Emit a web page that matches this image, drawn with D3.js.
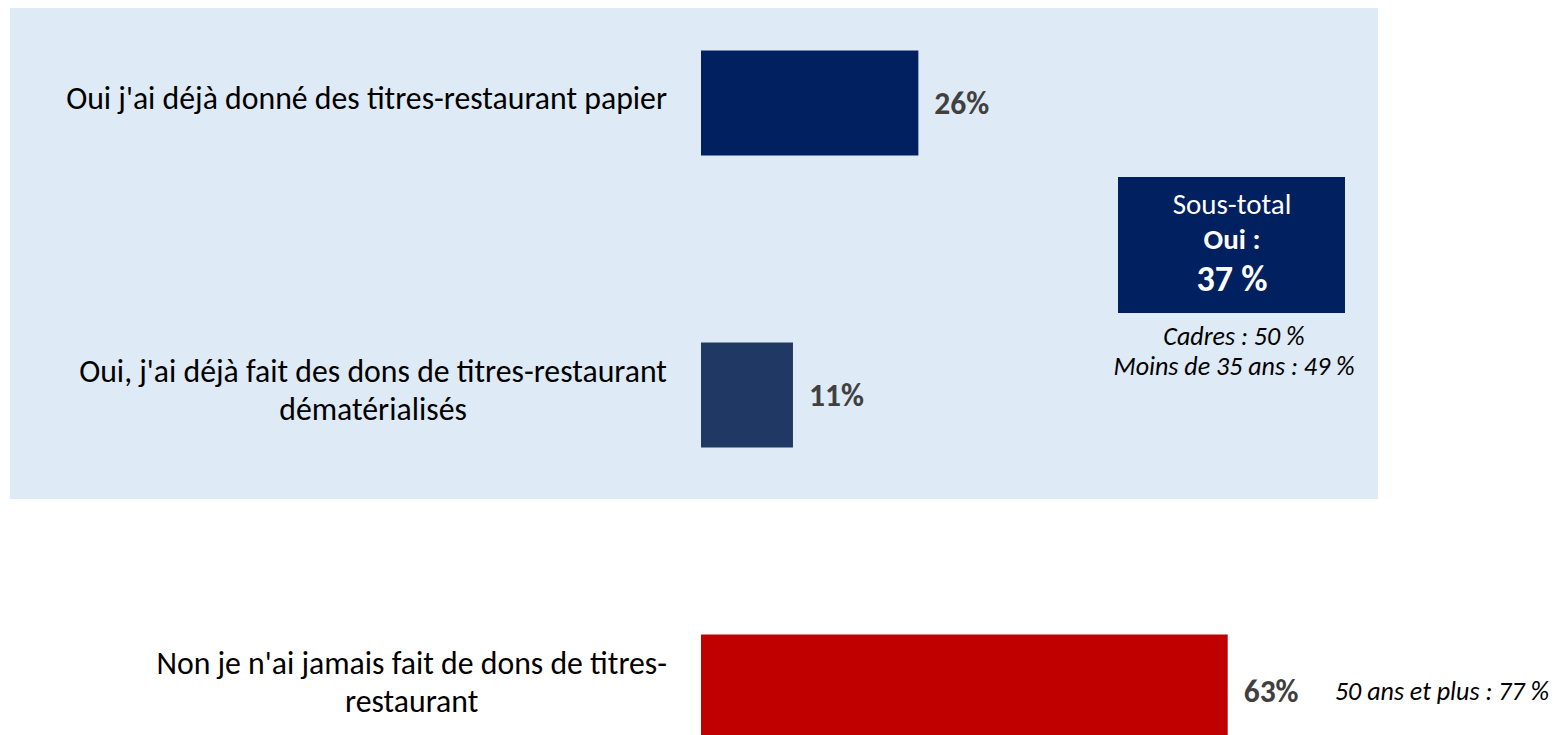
<!DOCTYPE html>
<html>
<head>
<meta charset="utf-8">
<script src="https://cdn.jsdelivr.net/npm/d3@7"></script>
<style>
  html, body { margin: 0; padding: 0; background: #fff; }
  svg { display: block; font-family: Carlito, Lato, "Open Sans", sans-serif; }
</style>
</head>
<body>
<svg id="chart" width="1561" height="735"></svg>
<script>
// data
const categories = [
  "Oui j'ai déjà donné des titres-restaurant papier",
  "Oui, j'ai déjà fait des dons de titres-restaurant dématérialisés",
  "Non je n'ai jamais fait de dons de titres-restaurant"
];
const labelLines = [
  ["Oui j'ai déjà donné des titres-restaurant papier"],
  ["Oui, j'ai déjà fait des dons de titres-restaurant", "dématérialisés"],
  ["Non je n'ai jamais fait de dons de titres-", "restaurant"]
];
const values = [26, 11, 63];
const subtotalLabel = ["Sous-total", "Oui :"];
const subtotalValue = 37;
const subtotalNotes = ["Cadres : 50 %", "Moins de 35 ans : 49 %"];
const noNote = "50 ans et plus : 77 %";

const barColors = ["#002060", "#1F3864", "#C00000"];

const svg = d3.select("#chart");

// light blue panel behind the "Oui" answers
svg.append("rect")
  .attr("x", 10).attr("y", 8)
  .attr("width", 1368).attr("height", 491)
  .attr("fill", "#DEEAF6");

const x = d3.scaleLinear().domain([0, 100]).range([701, 1537]);
const y = d3.scalePoint().domain(categories).range([103, 687]);
const barH = 105;

// bars
svg.selectAll(".bar")
  .data(categories)
  .enter().append("rect")
  .attr("class", "bar")
  .attr("x", x(0))
  .attr("y", d => y(d) - barH / 2)
  .attr("width", (d, i) => x(values[i]) - x(0))
  .attr("height", barH)
  .attr("fill", (d, i) => barColors[i]);

// value labels
svg.selectAll(".val")
  .data(categories)
  .enter().append("text")
  .attr("class", "val")
  .attr("x", (d, i) => x(values[i]) + 16)
  .attr("y", (d, i) => y(d) + (i == 2 ? 4 : 0))
  .attr("dy", "0.35em")
  .attr("font-size", 31.5)
  .attr("font-weight", "bold")
  .attr("fill", "#404040")
  .text((d, i) => values[i] + "%");

// category labels, fitted so the longest line matches the original width
const probe = svg.append("text").attr("font-size", 26).text(labelLines[0][0]);
const fs = 26 * 601 / probe.node().getComputedTextLength();
probe.remove();

const labelRight = 667;
const lineGap = 38.5;
categories.forEach((c, i) => {
  const lines = labelLines[i];
  const g = svg.append("g").attr("class", "cat-label");
  const texts = lines.map((l, j) => g.append("text")
    .attr("font-size", fs)
    .attr("fill", "#000")
    .attr("text-anchor", "middle")
    .attr("y", y(c) + (j - (lines.length - 1) / 2) * lineGap + 6)
    .text(l));
  const maxW = d3.max(texts, t => t.node().getComputedTextLength());
  texts.forEach(t => t.attr("x", labelRight - maxW / 2));
});

// sous-total box
const boxCx = 1232;
svg.append("rect")
  .attr("x", 1118).attr("y", 177)
  .attr("width", 227).attr("height", 136)
  .attr("fill", "#002060");

svg.append("text")
  .attr("x", boxCx).attr("y", 204).attr("dy", "0.35em")
  .attr("text-anchor", "middle").attr("font-size", 29).attr("fill", "#fff")
  .text(subtotalLabel[0]);
svg.append("text")
  .attr("x", boxCx).attr("y", 238.5).attr("dy", "0.35em")
  .attr("text-anchor", "middle").attr("font-size", 29).attr("font-weight", "bold").attr("fill", "#fff")
  .text(subtotalLabel[1]);
svg.append("text")
  .attr("x", boxCx).attr("y", 278).attr("dy", "0.35em")
  .attr("text-anchor", "middle").attr("font-size", 36).attr("font-weight", "bold").attr("fill", "#fff")
  .text(subtotalValue + " %");

subtotalNotes.forEach((n, i) => {
  svg.append("text")
    .attr("x", 1234).attr("y", 336 + i * 30).attr("dy", "0.35em")
    .attr("text-anchor", "middle").attr("font-size", 26).attr("font-style", "italic").attr("fill", "#000")
    .text(n);
});

svg.append("text")
  .attr("x", 1442).attr("y", 691).attr("dy", "0.35em")
  .attr("text-anchor", "middle").attr("font-size", 26).attr("font-style", "italic").attr("fill", "#000")
  .text(noNote);
</script>
</body>
</html>
